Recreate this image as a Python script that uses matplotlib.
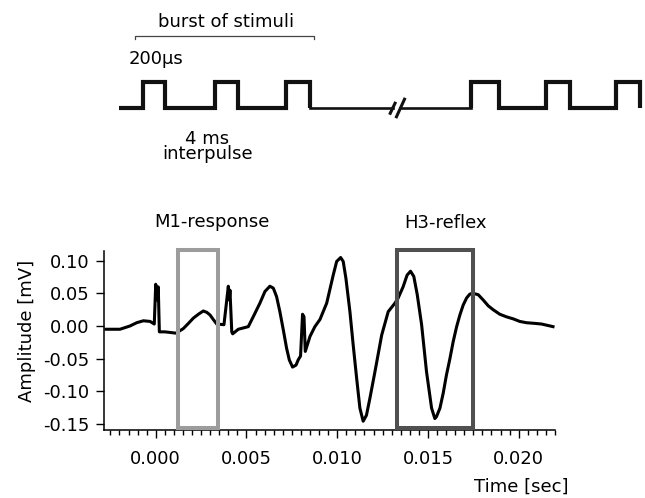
import matplotlib.pyplot as plt
from matplotlib.patches import Rectangle

plt.rcParams['font.family'] = ['DejaVu Sans']
plt.rcParams['axes.unicode_minus'] = False

time_ms = [-2.74, -1.97, -1.42, -1.05, -0.68, -0.31, -0.08, 0.0, 0.07, 0.14,
           0.20, 0.51, 1.12, 1.52, 1.80, 2.07, 2.35, 2.62, 2.81, 2.99,
           3.17, 3.36, 3.76, 4.00, 4.05, 4.09, 4.19, 4.24, 4.55, 5.10,
           5.37, 5.74, 6.02, 6.29, 6.48, 6.66, 6.84, 7.03, 7.21, 7.36,
           7.54, 7.73, 7.85, 7.98, 8.09, 8.17, 8.24, 8.50, 8.77, 9.05,
           9.42, 9.78, 9.97, 10.19, 10.33, 10.48, 10.70, 10.88, 11.07, 11.25,
           11.43, 11.61, 11.80, 12.08, 12.45, 12.81, 13.18, 13.36, 13.63, 13.85,
           14.04, 14.22, 14.41, 14.65, 14.92, 15.20, 15.38, 15.47, 15.66, 15.84,
           16.02, 16.21, 16.39, 16.58, 16.76, 16.94, 17.13, 17.31, 17.49, 17.77,
           18.04, 18.32, 18.59, 18.96, 19.33, 19.69, 20.06, 20.43, 20.89, 21.26,
           21.89]
amp_mv = [-0.005, -0.005, 0.000, 0.005, 0.008, 0.007, 0.003, 0.064, 0.040, 0.060,
          -0.009, -0.009, -0.011, -0.004, 0.004, 0.012, 0.018, 0.023, 0.021, 0.017,
          0.010, 0.003, 0.002, 0.061, 0.040, 0.055, -0.009, -0.012, -0.005, -0.001,
          0.014, 0.035, 0.053, 0.061, 0.058, 0.045, 0.022, -0.006, -0.034, -0.052,
          -0.063, -0.060, -0.052, -0.046, 0.018, 0.014, -0.039, -0.016, -0.001, 0.010,
          0.035, 0.078, 0.099, 0.105, 0.099, 0.073, 0.022, -0.029, -0.080, -0.126,
          -0.146, -0.137, -0.111, -0.070, -0.014, 0.022, 0.035, 0.043, 0.060, 0.078,
          0.084, 0.076, 0.048, 0.002, -0.070, -0.126, -0.142, -0.139, -0.126, -0.103,
          -0.075, -0.050, -0.024, -0.001, 0.017, 0.032, 0.043, 0.049, 0.050, 0.048,
          0.040, 0.031, 0.025, 0.018, 0.014, 0.011, 0.007, 0.005, 0.004, 0.003,
          -0.001]

# analysis windows (s)
m1_window = (0.00121, 0.00343)
h3_window = (0.01327, 0.01749)
window_amp = (-0.156, 0.1166)

# stimulation schematic, ms
pulse_on = [0.0, 4.0, 8.0, 18.4, 22.6, 26.5]
pulse_off = [1.2, 5.3, 9.35, 19.95, 23.95, 27.85]
train_start = -1.35
break_at = 14.2


def draw_stimuli(ax):
   # two bursts as step lines, joined by a thin baseline over the break
   for group in (range(0, 3), range(3, 6)):
      xs, ys = [], []
      first = group[0]
      xs.append(train_start if first == 0 else pulse_on[first] - 0.01)
      ys.append(0)
      for i in group:
         xs += [pulse_on[i], pulse_on[i], pulse_off[i], pulse_off[i]]
         ys += [0, 1, 1, 0]
      ax.plot(xs, ys, color='#111111', lw=3.0, solid_joinstyle='miter',
              solid_capstyle='butt')
   ax.plot([pulse_off[2], break_at - 0.2], [0, 0], color='#111111', lw=1.9)
   ax.plot([break_at + 0.2, pulse_on[3]], [0, 0], color='#111111', lw=1.9)
   ax.plot([break_at - 0.35, break_at - 0.08], [-0.19, 0.19], color='#111111', lw=2.2)
   ax.plot([break_at + 0.0, break_at + 0.45], [-0.32, 0.34], color='#111111', lw=2.2)

   # bracket over the burst
   ax.plot([-0.47, -0.47, 9.57, 9.57], [2.59, 2.72, 2.72, 2.59], color='#444444', lw=0.9)
   ax.text(4.63, 3.07, 'burst of stimuli', ha='center', va='baseline', fontsize=13)
   ax.text(-0.84, 1.68, '200µs', ha='left', va='baseline', fontsize=13)
   ax.text(3.6, -0.80, '4 ms\ninterpulse', ha='center', va='top', fontsize=13,
           multialignment='center', linespacing=0.8)

   ax.set_xlim(-8.04, 28.14)
   ax.set_ylim(-2.51, 4.07)
   ax.axis('off')


def draw_trace(ax):
   t = [v / 1000.0 for v in time_ms]
   ax.plot(t, amp_mv, color='black', lw=2.2, solid_joinstyle='round')

   for (t0, t1), col in ((m1_window, '#9c9c9c'), (h3_window, '#505050')):
      ax.add_patch(Rectangle((t0, window_amp[0]), t1 - t0, window_amp[1] - window_amp[0],
                             fill=False, edgecolor=col, lw=2.9, clip_on=False, zorder=3))

   ax.text(0.00308, 0.152, 'M1-response', ha='center', va='baseline', fontsize=13,
           clip_on=False)
   ax.text(0.01598, 0.150, 'H3-reflex', ha='center', va='baseline', fontsize=13,
           clip_on=False)

   ax.set_xlim(-0.00285, 0.022)
   ax.set_ylim(-0.1595, 0.115)
   ax.set_xticks([0.0, 0.005, 0.010, 0.015, 0.020])
   ax.set_xticklabels(['0.000', '0.005', '0.010', '0.015', '0.020'])
   ax.set_xticks([i * 0.0005 for i in range(-5, 45)], minor=True)
   ax.set_yticks([-0.15, -0.10, -0.05, 0.0, 0.05, 0.10])
   ax.set_yticklabels(['-0.15', '-0.10', '-0.05', '0.00', '0.05', '0.10'])
   ax.tick_params(axis='both', which='major', labelsize=13, width=1.0, length=6,
                  direction='out')
   ax.tick_params(axis='x', which='major', pad=8.5)
   ax.tick_params(axis='y', which='major', pad=4.5)
   ax.tick_params(axis='x', which='minor', width=1.0, length=3.5)
   for side in ('top', 'right'):
      ax.spines[side].set_visible(False)
   for side in ('left', 'bottom'):
      ax.spines[side].set_linewidth(1.1)


def main():
   fig = plt.figure(figsize=(6.45, 4.98), dpi=100)
   top = fig.add_axes([0.0, 1 - 175 / 498, 1.0, 175 / 498])
   draw_stimuli(top)
   ax = fig.add_axes([104 / 645, 1 - 430 / 498, 451 / 645, 179 / 498])
   draw_trace(ax)
   fig.text(27 / 645, 1 - 331 / 498, 'Amplitude [mV]', rotation=90, ha='center',
            va='center', fontsize=13)
   fig.text(568 / 645, 1 - 491.7 / 498, 'Time [sec]', ha='right', va='baseline',
            fontsize=13)
   fig.savefig('out.png', dpi=100)


if __name__ == '__main__':
   main()
